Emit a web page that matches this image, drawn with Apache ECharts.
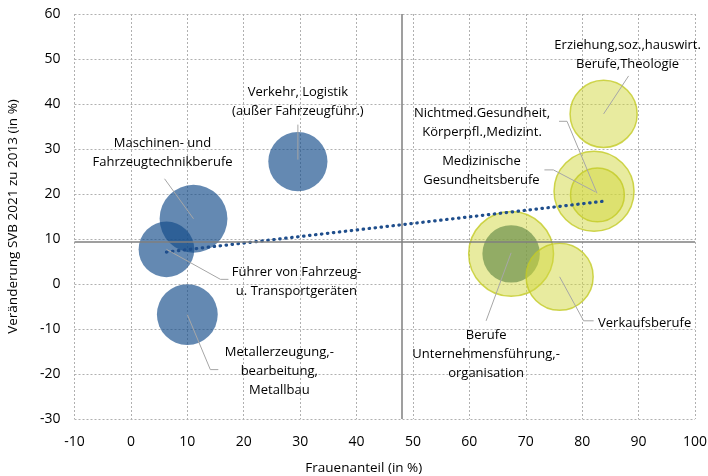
<!DOCTYPE html>
<html>
<head>
<meta charset="utf-8">
<script src="https://cdn.jsdelivr.net/npm/echarts@6/dist/echarts.min.js"></script>
<style>
  html, body { margin: 0; padding: 0; background: #fff; }
  #chart { width: 708px; height: 476px; }
</style>
</head>
<body>
<div id="chart"></div>
<script>
// Berufsgruppen: Frauenanteil (x), Veränderung SVB 2021 zu 2013 (y), Bubble-Größe (Beschäftigte, relativ)
const berufe = [
    'Maschinen- und Fahrzeugtechnikberufe',
    'Führer von Fahrzeug- u. Transportgeräten',
    'Metallerzeugung,-bearbeitung, Metallbau',
    'Verkehr, Logistik (außer Fahrzeugführ.)',
    'Erziehung,soz.,hauswirt. Berufe,Theologie',
    'Nichtmed.Gesundheit, Körperpfl.,Medizint.',
    'Medizinische Gesundheitsberufe',
    'Berufe Unternehmensführung,-organisation',
    'Unternehmensführung (Teil)',
    'Verkaufsberufe'
]
const frauenanteil = [11.1, 6.3, 10.0, 29.6, 83.8, 82.1, 82.7, 67.4, 67.4, 76.0]
const veraenderung = [14.5, 7.7, -6.8, 27.2, 37.8, 20.6, 19.8, 6.7, 6.7, 1.6]
const beschaeftigte = [46, 31, 37, 35, 45, 64, 29, 72, 33, 45]
// m = männerdominiert, f = frauendominiert, g = innere Teilgruppe
const gruppe = ['m', 'm', 'm', 'm', 'f', 'f', 'f', 'f', 'g', 'f']

// Trendlinie (Endpunkte)
const trendX = [6.3, 83.9]
const trendY = [7.1, 18.4]

// Referenzlinien (Durchschnitt)
const mittelFrauenanteil = 48.1
const mittelVeraenderung = 9.5

// Beschriftungen: Text-Mittelpunkt und Hinweislinie relativ zum Bubble-Mittelpunkt (px)
const labelLayout = [
    { i: 0, text: 'Maschinen- und\nFahrzeugtechnikberufe', dx: -31, dy: -66, line: [[0, 0], [-29, -40]] },
    { i: 1, text: 'Führer von Fahrzeug-\nu. Transportgeräten', dx: 130, dy: 32, line: [[0, 0], [54, 30], [62, 30]] },
    { i: 2, text: 'Metallerzeugung,-\nbearbeitung,\nMetallbau', dx: 92, dy: 57, line: [[0, 0], [23, 55], [31, 55]] },
    { i: 3, text: 'Verkehr, Logistik\n(außer Fahrzeugführ.)', dx: 0, dy: -60, line: [[0, -2], [0, -37]] },
    { i: 4, text: 'Erziehung,soz.,hauswirt.\nBerufe,Theologie', dx: 24, dy: -59, line: [[0, 0], [25, -38]] },
    { i: 5, text: 'Nichtmed.Gesundheit,\nKörperpfl.,Medizint.', dx: -112, dy: -69, line: [[3, 2], [-27, -70], [-35, -70]] },
    { i: 6, text: 'Medizinische\nGesundheitsberufe', dx: -116, dy: -24, line: [[-2, -3], [-44, -25], [-53, -25]] },
    { i: 7, text: 'Berufe\nUnternehmensführung,-\norganisation', dx: -25, dy: 100, line: [[0, -1], [-25, 67]] },
    { i: 9, text: 'Verkaufsberufe', dx: 85, dy: 46, line: [[0, 0], [24, 44], [34, 44]] }
]

const farben = {
    m: { color: 'rgba(18,75,137,0.82)', borderColor: 'rgba(18,75,137,0)', borderWidth: 0 },
    f: { color: 'rgba(208,214,60,0.62)', borderColor: '#c3cb25', borderWidth: 1.5 },
    g: { color: 'rgba(110,145,75,0.88)', borderColor: 'rgba(110,145,75,0)', borderWidth: 0 }
}

const fontFamily = '"Open Sans", "Noto Sans", sans-serif'

const bubbleData = berufe.map((name, i) => ({
    name: name,
    value: [frauenanteil[i], veraenderung[i], beschaeftigte[i]],
    itemStyle: farben[gruppe[i]]
}))

const labelData = labelLayout.map(l => [frauenanteil[l.i], veraenderung[l.i]])

const myChart = echarts.init(document.getElementById('chart'))
myChart.setOption({
    animation: false,
    grid: {
        left: 74.5,
        right: 13,
        top: 14,
        bottom: 57,
        outerBoundsMode: 'none',
        containLabel: false
    },
    xAxis: {
        type: 'value',
        min: -10,
        max: 100,
        interval: 10,
        name: 'Frauenanteil (in %)',
        nameLocation: 'middle',
        nameGap: 42,
        nameTextStyle: { fontSize: 13.5, color: '#000', fontFamily: fontFamily, padding: [0, 42, 0, 0] },
        axisLine: { show: false },
        axisTick: { show: false },
        axisLabel: { fontSize: 14, color: '#000', fontFamily: fontFamily, margin: 16 },
        splitLine: { show: true, lineStyle: { color: '#b0b0b0', type: [2, 2], width: 1 } }
    },
    yAxis: {
        type: 'value',
        min: -30,
        max: 60,
        interval: 10,
        name: 'Veränderung SVB 2021 zu 2013 (in %)',
        nameLocation: 'middle',
        nameGap: 54,
        nameTextStyle: { fontSize: 13.5, color: '#000', fontFamily: fontFamily },
        axisLine: { show: false },
        axisTick: { show: false },
        axisLabel: { fontSize: 14, color: '#000', fontFamily: fontFamily, margin: 14 },
        splitLine: { show: true, lineStyle: { color: '#b0b0b0', type: [2, 2], width: 1 } }
    },
    series: [
        {
            // Referenzlinien
            type: 'line',
            data: [],
            z: 1,
            silent: true,
            markLine: {
                silent: true,
                symbol: 'none',
                label: { show: false },
                lineStyle: { color: '#7f7f7f', type: 'solid', width: 1.5 },
                data: [{ xAxis: mittelFrauenanteil }, { yAxis: mittelVeraenderung }]
            }
        },
        {
            type: 'scatter',
            z: 2,
            data: bubbleData,
            symbolSize: function (val) {
                return Math.sqrt(val[2]) * 10
            }
        },
        {
            // Trendlinie
            type: 'line',
            z: 3,
            symbol: 'none',
            data: trendX.map((x, i) => [x, trendY[i]]),
            lineStyle: { color: '#1f4e8c', width: 3.2, type: [0.5, 5.5], cap: 'round' }
        },
        {
            // Beschriftungen mit Hinweislinien
            type: 'custom',
            z: 4,
            silent: true,
            data: labelData,
            renderItem: function (params, api) {
                const l = labelLayout[params.dataIndex]
                const c = api.coord([api.value(0), api.value(1)])
                return {
                    type: 'group',
                    children: [
                        {
                            type: 'polyline',
                            shape: { points: l.line.map(p => [c[0] + p[0], c[1] + p[1]]) },
                            style: { stroke: '#a6a6a6', lineWidth: 1, fill: null }
                        },
                        {
                            type: 'text',
                            x: c[0] + l.dx,
                            y: c[1] + l.dy,
                            style: {
                                text: l.text,
                                align: 'center',
                                verticalAlign: 'middle',
                                fontSize: 13,
                                fontFamily: fontFamily,
                                lineHeight: 19,
                                fill: '#000'
                            }
                        }
                    ]
                }
            }
        }
    ]
})
window.addEventListener('resize', function () {
    myChart.resize()
})
</script>
</body>
</html>
